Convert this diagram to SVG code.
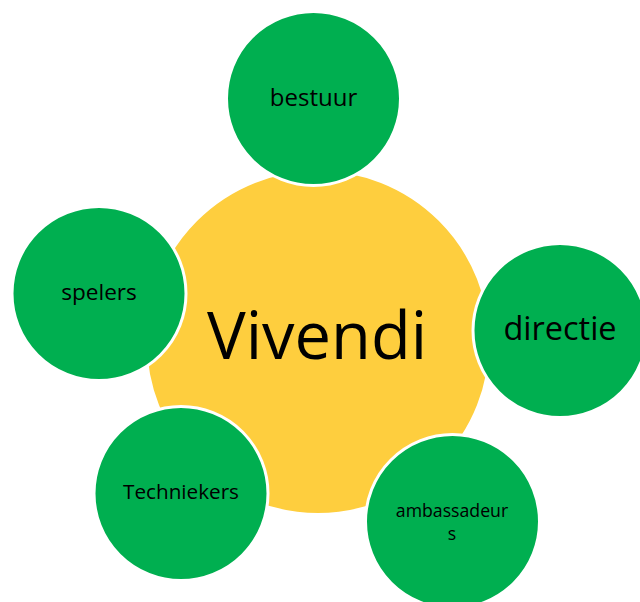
<svg xmlns="http://www.w3.org/2000/svg" width="640" height="602" viewBox="0 0 640 602">
<style>
.hub{fill:#FECE3E;stroke:#FFFFFF;stroke-width:2}
.sat{fill:#00AF50;stroke:#FFFFFF;stroke-width:3}
text{font-family:"Open Sans","Noto Sans","Liberation Sans",sans-serif;fill:#000000;text-anchor:middle}
</style>
<rect width="640" height="602" fill="#FFFFFF"/>
<g id="connectors"/>
<g id="vivendi">
<circle class="hub" cx="318" cy="342" r="172"/>
<text x="317" y="359" font-size="65">Vivendi</text>
</g>
<g id="bestuur">
<circle class="sat" cx="313.5" cy="98.5" r="87"/>
<text x="313.5" y="106" font-size="24">bestuur</text>
</g>
<g id="directie">
<circle class="sat" cx="560" cy="330.5" r="87"/>
<text x="560" y="340" font-size="32.5">directie</text>
</g>
<g id="ambassadeurs">
<circle class="sat" cx="452.5" cy="521.5" r="87"/>
<text x="452" y="517" font-size="17.7">ambassadeur</text>
<text x="452" y="540" font-size="17.7">s</text>
</g>
<g id="techniekers">
<circle class="sat" cx="181" cy="493.5" r="87"/>
<text x="181" y="499" font-size="20.7">Techniekers</text>
</g>
<g id="spelers">
<circle class="sat" cx="99" cy="293.5" r="87"/>
<text x="99" y="300" font-size="22.6">spelers</text>
</g>
</svg>
